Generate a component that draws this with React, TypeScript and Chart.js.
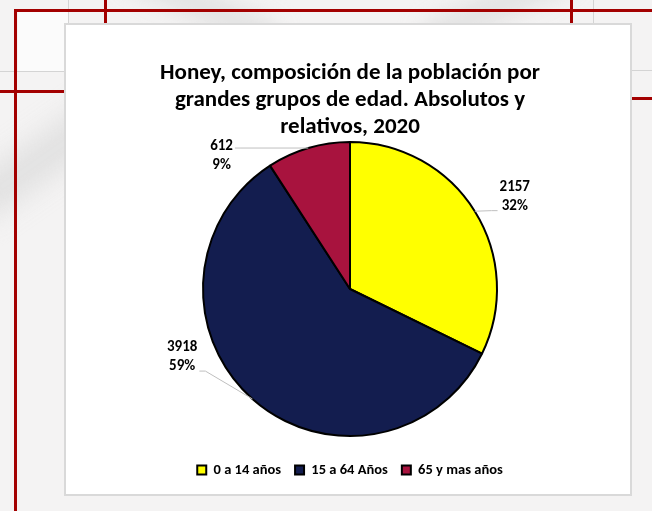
import React, { useEffect, useRef } from "react";
import { Chart, registerables } from "chart.js";

Chart.register(...registerables);

const titleLines = [
  "Honey, composición de la población por",
  "grandes grupos de edad. Absolutos y",
  "relativos, 2020",
];
const categories = ["0 a 14 años", "15 a 64 Años", "65 y mas años"];
const population = [2157, 3918, 612];
const sliceColors = ["#FFFF00", "#131D4F", "#A8133E"];

const FONT = "Carlito, Lato, 'DejaVu Sans', sans-serif";

const sliceLabelPlugin = {
  id: "sliceLabels",
  afterDatasetsDraw(chart: any, _args: any, opts: any) {
    const ctx = chart.ctx as CanvasRenderingContext2D;
    const meta = chart.getDatasetMeta(0);
    const data = chart.data.datasets[0].data as number[];
    const total = data.reduce((a, b) => a + b, 0);
    ctx.save();
    meta.data.forEach((arc: any, i: number) => {
      const { x, y, startAngle, endAngle, outerRadius } = arc.getProps(
        ["x", "y", "startAngle", "endAngle", "outerRadius"],
        true
      );
      const mid = (startAngle + endAngle) / 2;
      const la = mid + (opts.angleShift[i] * Math.PI) / 180;
      const d = outerRadius + opts.distance[i];
      const lx = x + Math.cos(la) * d;
      const ly = y + Math.sin(la) * d;
      const lines = [String(data[i]), Math.round((data[i] / total) * 100) + "%"];
      ctx.font = `bold ${opts.fontSize}px ${FONT}`;
      const w = Math.max(...lines.map((t) => ctx.measureText(t).width));
      const lh = opts.lineHeight;
      // leader line
      const ex = x + Math.cos(mid) * outerRadius;
      const ey = y + Math.sin(mid) * outerRadius;
      const onLeft = lx < x;
      const ax = onLeft ? lx + w / 2 + 2 : lx - w / 2 - 2;
      const ay = Math.max(ly - lh * 0.75, Math.min(ly + lh * 0.75, ey));
      const dir = onLeft ? 1 : -1;
      ctx.strokeStyle = opts.lineColor;
      ctx.lineWidth = 1;
      ctx.beginPath();
      ctx.moveTo(ax, ay);
      ctx.lineTo(ax + dir * 6, ay);
      ctx.lineTo(ex, ey);
      ctx.stroke();
      // text
      ctx.fillStyle = opts.color;
      ctx.textAlign = "center";
      ctx.textBaseline = "middle";
      ctx.fillText(lines[0], lx, ly - lh / 2);
      ctx.fillText(lines[1], lx, ly + lh / 2);
    });
    ctx.restore();
  },
};

export default function App() {
  const ref = useRef<HTMLCanvasElement | null>(null);

  useEffect(() => {
    if (!ref.current) return;
    const chart = new Chart(ref.current, {
      type: "pie",
      data: {
        labels: categories,
        datasets: [
          {
            data: population,
            backgroundColor: sliceColors,
            borderColor: "#000000",
            borderWidth: 2,
            radius: 147,
          } as any,
        ],
      },
      plugins: [sliceLabelPlugin as any],
      options: {
        responsive: false,
        animation: false,
        layout: { padding: { top: 0, bottom: 23.75, left: 68, right: 20 } },
        plugins: {
          title: {
            display: true,
            text: titleLines,
            color: "#000000",
            font: { family: FONT, size: 23, weight: "bold", lineHeight: 27 / 23 },
            padding: { top: 59.5, bottom: 0 },
          },
          legend: {
            display: true,
            position: "bottom",
            title: {
              display: true,
              text: "",
              font: { size: 1, lineHeight: 1 },
              padding: { top: 10.25, bottom: 0 },
            },
            labels: {
              color: "#000000",
              boxWidth: 9,
              boxHeight: 9,
              padding: 14,
              font: { family: FONT, size: 14.5, weight: "bold" },
            },
          },
          tooltip: { enabled: false },
          sliceLabels: {
            angleShift: [2.6, 26.4, -27.5],
            distance: [42, 34, 38],
            fontSize: 15,
            lineHeight: 19,
            color: "#000000",
            lineColor: "#bfbfbf",
          },
        } as any,
      },
    });
    return () => chart.destroy();
  }, []);

  const red = "#A30000";
  const line = (s: React.CSSProperties) => (
    <div style={{ position: "absolute", ...s }} />
  );

  return (
    <div
      style={{
        position: "fixed",
        left: 0,
        top: 0,
        width: 652,
        height: 511,
        overflow: "hidden",
        background: "#f4f3f3",
      }}
    >
      {/* faint watermark shapes */}
      <div style={{ position: "absolute", left: -40, top: 140, width: 160, height: 40, background: "#dcdcdc", transform: "rotate(-35deg)", filter: "blur(14px)", opacity: 0.8 }} />
      <div style={{ position: "absolute", left: 120, top: -10, width: 160, height: 30, background: "#dddddd", transform: "rotate(25deg)", filter: "blur(12px)", opacity: 0.8 }} />
      <div style={{ position: "absolute", left: 420, top: -10, width: 160, height: 30, background: "#dddddd", transform: "rotate(-25deg)", filter: "blur(12px)", opacity: 0.8 }} />
      <div style={{ position: "absolute", left: 18, top: 12, width: 50, height: 60, background: "#fbfbfb" }} />
      {/* gray thin lines */}
      {line({ left: 68, top: 0, width: 1, height: 24, background: "#d4d4d4" })}
      {line({ left: 593, top: 0, width: 1, height: 24, background: "#d4d4d4" })}
      {line({ left: 0, top: 71, width: 65, height: 1, background: "#d4d4d4" })}
      {line({ left: 631, top: 70, width: 21, height: 1, background: "#d4d4d4" })}
      {/* red lines */}
      {line({ left: 14, top: 9, width: 638, height: 3, background: red })}
      {line({ left: 14, top: 9, width: 3, height: 502, background: red })}
      {line({ left: 104, top: 0, width: 3, height: 24, background: red })}
      {line({ left: 570, top: 0, width: 3, height: 24, background: red })}
      {line({ left: 0, top: 90, width: 65, height: 3, background: red })}
      {line({ left: 631, top: 97, width: 21, height: 3, background: red })}
      {/* chart box */}
      <div
        style={{
          position: "absolute",
          left: 64,
          top: 23,
          width: 564,
          height: 469,
          background: "#ffffff",
          border: "2px solid #d9d9d9",
        }}
      />
      <canvas
        ref={ref}
        width={652}
        height={511}
        style={{ position: "absolute", left: 0, top: 0, width: 652, height: 511 }}
      />
    </div>
  );
}
